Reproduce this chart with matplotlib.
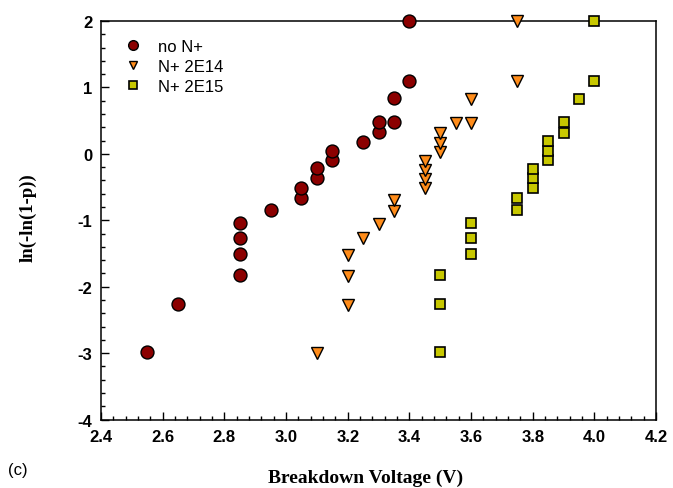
import matplotlib
matplotlib.use("Agg")
import matplotlib.pyplot as plt
from matplotlib.ticker import MultipleLocator

plt.rcParams['axes.unicode_minus'] = False

# Weibull plot data: breakdown voltage vs ln(-ln(1-p))
v_none = [2.55, 2.65, 2.85, 2.85, 2.85, 2.85, 2.95, 3.05, 3.05, 3.10,
          3.10, 3.15, 3.15, 3.25, 3.30, 3.30, 3.35, 3.35, 3.40, 3.40]
w_none = [-2.98, -2.26, -1.83, -1.51, -1.26, -1.04, -0.85, -0.67, -0.52, -0.37,
          -0.22, -0.09, 0.05, 0.18, 0.33, 0.48, 0.48, 0.84, 1.10, 2.00]

v_2e14 = [3.10, 3.20, 3.20, 3.20, 3.25, 3.30, 3.35, 3.35, 3.45, 3.45,
          3.45, 3.45, 3.50, 3.50, 3.50, 3.55, 3.60, 3.60, 3.75, 3.75]
w_2e14 = [-3.00, -2.28, -1.84, -1.52, -1.27, -1.05, -0.86, -0.69, -0.52, -0.38,
          -0.24, -0.11, 0.03, 0.17, 0.32, 0.46, 0.46, 0.83, 1.10, 2.00]

v_2e15 = [3.50, 3.50, 3.50, 3.60, 3.60, 3.60, 3.75, 3.75, 3.80, 3.80,
          3.80, 3.85, 3.85, 3.85, 3.90, 3.90, 3.95, 4.00, 4.00]
w_2e15 = [-2.99, -2.26, -1.83, -1.51, -1.26, -1.04, -0.85, -0.67, -0.52, -0.37,
          -0.23, -0.10, 0.04, 0.19, 0.32, 0.48, 0.83, 1.10, 2.00]

fig = plt.figure(figsize=(6.73, 4.89), dpi=100)
ax = fig.add_axes([0.150, 0.140, 0.825, 0.815])

ax.plot(v_none, w_none, 'o', ms=9.3, mfc='#8b0000', mec='black', mew=1.0,
        label='no N+', clip_on=False, zorder=3)
ax.plot(v_2e14, w_2e14, 'v', ms=8.3, mfc='#ff8c1a', mec='black', mew=1.0,
        label='N+ 2E14', clip_on=False, zorder=3)
ax.plot(v_2e15, w_2e15, 's', ms=7.8, mfc='#c8c800', mec='black', mew=1.2,
        label='N+ 2E15', clip_on=False, zorder=3)

ax.set_xlim(2.4, 4.2)
ax.set_ylim(-4, 2)
ax.xaxis.set_major_locator(MultipleLocator(0.2))
ax.xaxis.set_minor_locator(MultipleLocator(0.04))
ax.yaxis.set_major_locator(MultipleLocator(1))
ax.yaxis.set_minor_locator(MultipleLocator(0.2))
ax.tick_params(which='both', direction='in', top=False, right=False, width=1.0)
ax.tick_params(which='major', length=6)
ax.tick_params(which='minor', length=3)
ax.set_xticklabels(['%.1f' % t for t in ax.get_xticks()])

for lbl in ax.get_xticklabels() + ax.get_yticklabels():
    lbl.set_fontfamily('Liberation Sans')
    lbl.set_fontweight('bold')
    lbl.set_fontsize(12)
ax.tick_params(axis='x', pad=7)
ax.tick_params(axis='y', pad=6)

for sp in ax.spines.values():
    sp.set_linewidth(1.1)

ax.set_xlabel('Breakdown Voltage (V)', family='Liberation Serif', weight='bold',
              fontsize=14)
ax.xaxis.set_label_coords(0.476, -0.124)
ax.set_ylabel('ln(-ln(1-p))', family='Liberation Serif', weight='bold',
              fontsize=13.5)
ax.yaxis.set_label_coords(-0.115, 0.51)

fig.text(0.012, 0.028, '(c)', family='Liberation Sans', fontsize=12)

leg = ax.legend(loc='upper left', bbox_to_anchor=(0.012, 0.993), frameon=False,
                markerscale=0.75, handlelength=1.2, handletextpad=0.9,
                labelspacing=0.3, prop={'family': 'Liberation Sans', 'size': 12})

fig.savefig('out.png', dpi=100)
